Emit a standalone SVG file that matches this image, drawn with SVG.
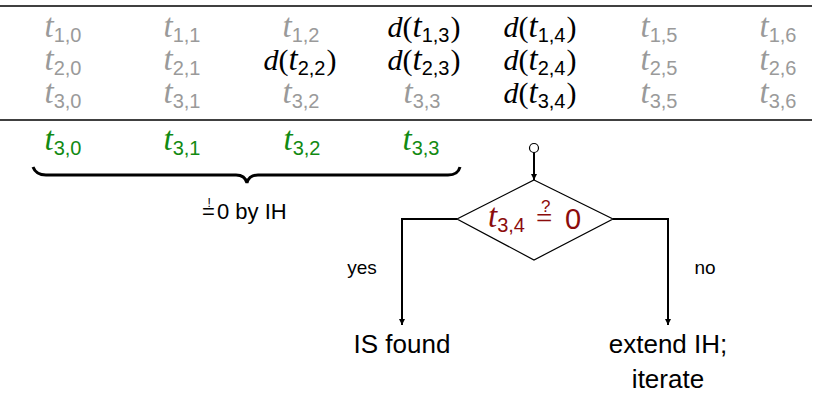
<svg xmlns="http://www.w3.org/2000/svg" width="819" height="395" viewBox="0 0 819 395">
<defs>
<style>
text{font-family:"Liberation Sans","DejaVu Sans",sans-serif}
.m{font-family:"Liberation Serif","DejaVu Serif",serif;font-style:italic;font-size:30px}
.t{font-family:"Liberation Serif","DejaVu Serif",serif;font-style:italic;font-size:33px}
.p{font-family:"Liberation Serif","DejaVu Serif",serif;font-size:30px}
.s{font-family:"Liberation Sans","DejaVu Sans",sans-serif;font-size:20px}
.g{fill:#9a9a9a}
.k{fill:#000}
.gr{fill:#128a12}
.r{fill:#8b0c0c}
.lbl{font-size:19px;fill:#000}
.big{font-size:26px;fill:#000}
.conn{stroke:#000;stroke-width:2;fill:none}
</style>
<marker id="ah" viewBox="0 0 10 10" refX="10" refY="5" markerWidth="6" markerHeight="6" markerUnits="userSpaceOnUse" orient="auto">
<path d="M0,0 L10,5 L0,10 z" fill="#000"/>
</marker>
</defs>
<rect width="819" height="395" fill="#fff"/>
<g id="table">
<line x1="0" y1="6" x2="812" y2="6" stroke="#000" stroke-width="1.6"/>
<line x1="0" y1="120" x2="812" y2="120" stroke="#000" stroke-width="1.6"/>
<g text-anchor="middle">
<text x="63" y="37" class="g"><tspan class="t">t</tspan><tspan class="s" dy="5">1,0</tspan></text>
<text x="182" y="37" class="g"><tspan class="t">t</tspan><tspan class="s" dy="5">1,1</tspan></text>
<text x="301" y="37" class="g"><tspan class="t">t</tspan><tspan class="s" dy="5">1,2</tspan></text>
<text x="424" y="37" class="k"><tspan class="m">d</tspan><tspan class="p">(</tspan><tspan class="t">t</tspan><tspan class="s" dy="5">1,3</tspan><tspan class="p" dy="-5" dx="1">)</tspan></text>
<text x="540" y="37" class="k"><tspan class="m">d</tspan><tspan class="p">(</tspan><tspan class="t">t</tspan><tspan class="s" dy="5">1,4</tspan><tspan class="p" dy="-5" dx="1">)</tspan></text>
<text x="659" y="37" class="g"><tspan class="t">t</tspan><tspan class="s" dy="5">1,5</tspan></text>
<text x="778" y="37" class="g"><tspan class="t">t</tspan><tspan class="s" dy="5">1,6</tspan></text>

<text x="63" y="70" class="g"><tspan class="t">t</tspan><tspan class="s" dy="5">2,0</tspan></text>
<text x="182" y="70" class="g"><tspan class="t">t</tspan><tspan class="s" dy="5">2,1</tspan></text>
<text x="300" y="70" class="k"><tspan class="m">d</tspan><tspan class="p">(</tspan><tspan class="t">t</tspan><tspan class="s" dy="5">2,2</tspan><tspan class="p" dy="-5" dx="1">)</tspan></text>
<text x="424" y="70" class="k"><tspan class="m">d</tspan><tspan class="p">(</tspan><tspan class="t">t</tspan><tspan class="s" dy="5">2,3</tspan><tspan class="p" dy="-5" dx="1">)</tspan></text>
<text x="540" y="70" class="k"><tspan class="m">d</tspan><tspan class="p">(</tspan><tspan class="t">t</tspan><tspan class="s" dy="5">2,4</tspan><tspan class="p" dy="-5" dx="1">)</tspan></text>
<text x="659" y="70" class="g"><tspan class="t">t</tspan><tspan class="s" dy="5">2,5</tspan></text>
<text x="778" y="70" class="g"><tspan class="t">t</tspan><tspan class="s" dy="5">2,6</tspan></text>

<text x="63" y="103" class="g"><tspan class="t">t</tspan><tspan class="s" dy="5">3,0</tspan></text>
<text x="182" y="103" class="g"><tspan class="t">t</tspan><tspan class="s" dy="5">3,1</tspan></text>
<text x="301" y="103" class="g"><tspan class="t">t</tspan><tspan class="s" dy="5">3,2</tspan></text>
<text x="422" y="103" class="g"><tspan class="t">t</tspan><tspan class="s" dy="5">3,3</tspan></text>
<text x="540" y="103" class="k"><tspan class="m">d</tspan><tspan class="p">(</tspan><tspan class="t">t</tspan><tspan class="s" dy="5">3,4</tspan><tspan class="p" dy="-5" dx="1">)</tspan></text>
<text x="659" y="103" class="g"><tspan class="t">t</tspan><tspan class="s" dy="5">3,5</tspan></text>
<text x="778" y="103" class="g"><tspan class="t">t</tspan><tspan class="s" dy="5">3,6</tspan></text>
</g>
</g>
<g id="green-row" text-anchor="middle">
<text x="63" y="150" class="gr"><tspan class="t">t</tspan><tspan class="s" dy="5">3,0</tspan></text>
<text x="182" y="150" class="gr"><tspan class="t">t</tspan><tspan class="s" dy="5">3,1</tspan></text>
<text x="302" y="150" class="gr"><tspan class="t">t</tspan><tspan class="s" dy="5">3,2</tspan></text>
<text x="421" y="150" class="gr"><tspan class="t">t</tspan><tspan class="s" dy="5">3,3</tspan></text>
</g>
<g id="brace">
<path d="M33,167 Q36,175 46,175 L236,175 Q245,175 247,183 Q249,175 258,175 L448,175 Q458,175 460,167" fill="none" stroke="#000" stroke-width="3"/>
<text style="font-size:22px"><tspan x="202" y="219">=</tspan><tspan x="207.5" y="207" style="font-size:12px">!</tspan><tspan x="217" y="219">0 by IH</tspan></text>
</g>
<g id="connectors">
<line x1="534" y1="152" x2="534" y2="180" class="conn" marker-end="url(#ah)"/>
<polyline points="457,219 402,219 402,325" class="conn" marker-end="url(#ah)"/>
<polyline points="613,219 668,219 668,325" class="conn" marker-end="url(#ah)"/>
<text x="362" y="274" text-anchor="middle" class="lbl">yes</text>
<text x="705" y="274" text-anchor="middle" class="lbl">no</text>
</g>
<g id="start">
<circle cx="534" cy="148" r="4.5" fill="#fff" stroke="#000" stroke-width="1.2"/>
</g>
<g id="decision">
<polygon points="534,180 613,219 534,260 457,219" fill="#fff" stroke="#000" stroke-width="1.2"/>
<text class="r"><tspan x="488" y="227" class="t">t</tspan><tspan class="s" dy="5">3,4</tspan><tspan x="536" y="228" style="font-size:29px;font-family:'Liberation Serif',serif">=</tspan><tspan x="541" y="212" style="font-size:17px">?</tspan><tspan x="565" y="229" style="font-size:29px">0</tspan></text>
</g>
<g id="found">
<text x="402" y="353" text-anchor="middle" class="big">IS found</text>
</g>
<g id="extend">
<text x="668" y="353" text-anchor="middle" class="big">extend IH;</text>
<text x="668" y="388" text-anchor="middle" class="big">iterate</text>
</g>
</svg>
